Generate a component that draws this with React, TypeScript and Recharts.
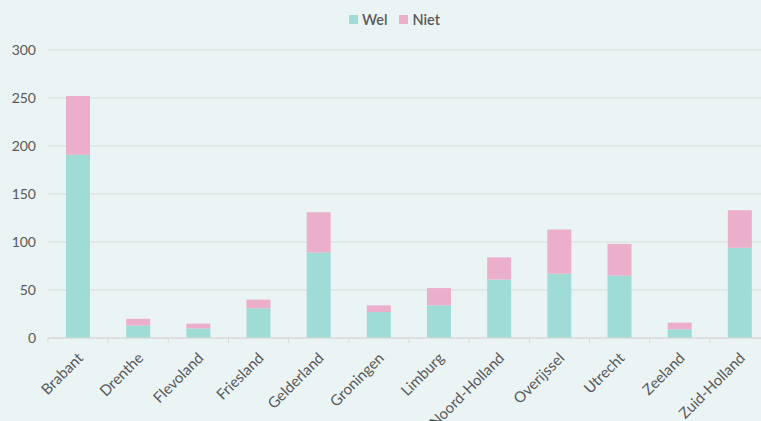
import { BarChart, Bar, XAxis, YAxis, CartesianGrid, Legend } from 'recharts'

const provinces = [
  'Brabant',
  'Drenthe',
  'Flevoland',
  'Friesland',
  'Gelderland',
  'Groningen',
  'Limburg',
  'Noord-Holland',
  'Overijssel',
  'Utrecht',
  'Zeeland',
  'Zuid-Holland',
]
const wel = [191, 13, 10, 31, 89, 27, 34, 61, 67, 65, 9, 94]
const niet = [61, 7, 5, 9, 42, 7, 18, 23, 46, 33, 7, 39]
const yTicks = [0, 50, 100, 150, 200, 250, 300]

const series = [
  { key: 'Wel', color: '#a0dcd6' },
  { key: 'Niet', color: '#ebaecb' },
]

const data = provinces.map((name, i) => ({ name, Wel: wel[i], Niet: niet[i] }))

const CHART_W = 770
const Y_W = 48
const FONT = "Lato, 'Open Sans', sans-serif"
const bandHalf = (CHART_W - Y_W) / provinces.length / 2

function ProvinceTick(props: any) {
  const { x, y, payload } = props
  const ax = x + 6
  const ay = y + 13
  return (
    <g>
      <line x1={x - bandHalf} y1={y - 8} x2={x - bandHalf} y2={y - 3} stroke="#d9d9d9" />
      <text
        x={ax}
        y={ay}
        textAnchor="end"
        fill="#595959"
        fontSize={15}
        fontFamily={FONT}
        transform={`rotate(-45, ${ax}, ${ay})`}
      >
        {payload.value}
      </text>
    </g>
  )
}

function LegendBox() {
  return (
    <div
      style={{
        display: 'flex',
        justifyContent: 'center',
        gap: 12,
        paddingLeft: 28,
        fontSize: 14.5,
        fontWeight: 600,
        color: '#595959',
        fontFamily: FONT,
      }}
    >
      {series.map((s) => (
        <span key={s.key} style={{ display: 'inline-flex', alignItems: 'center', gap: 4 }}>
          <span style={{ width: 9, height: 9, background: s.color, display: 'inline-block' }} />
          {s.key}
        </span>
      ))}
    </div>
  )
}

export default function App() {
  return (
    <div
      style={{
        position: 'absolute',
        left: 0,
        top: 0,
        width: 761,
        height: 421,
        overflow: 'hidden',
        background: '#eaf4f5',
      }}
    >
      <BarChart
        width={CHART_W}
        height={421}
        data={data}
        margin={{ top: 20, right: 0, left: 0, bottom: 0 }}
        style={{ fontFamily: FONT }}
      >
        <CartesianGrid stroke="#d9d9d9" vertical={false} />
        <Legend
          verticalAlign="top"
          height={30}
          content={<LegendBox />}
          wrapperStyle={{ top: 11, left: 0, width: 761 }}
        />
        <XAxis
          dataKey="name"
          height={83}
          interval={0}
          axisLine={{ stroke: '#d9d9d9' }}
          tickLine={false}
          tick={<ProvinceTick />}
        />
        <YAxis
          width={Y_W}
          domain={[0, 300]}
          ticks={yTicks}
          axisLine={false}
          tickLine={false}
          tickMargin={6}
          tick={{ fill: '#595959', fontSize: 14 }}
        />
        {series.map((s) => (
          <Bar key={s.key} dataKey={s.key} stackId="a" fill={s.color} barSize={24} isAnimationActive={false} />
        ))}
      </BarChart>
    </div>
  )
}
